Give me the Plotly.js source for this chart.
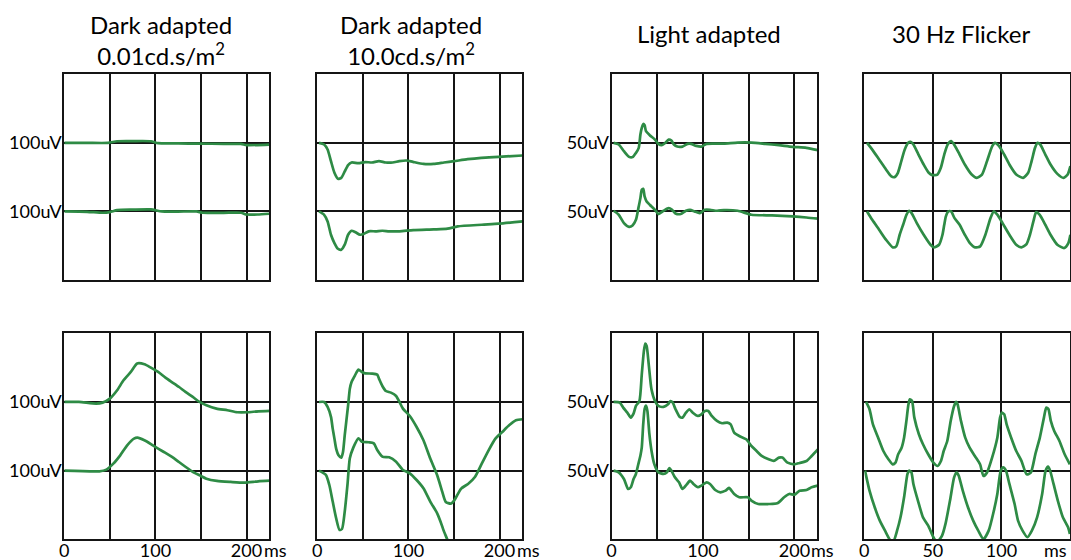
<!DOCTYPE html>
<html>
<head>
<meta charset="utf-8">
<script src="https://cdn.plot.ly/plotly-3.0.1.min.js"></script>
<style>
html,body{margin:0;padding:0;background:#fff;}
#chart{width:1071px;height:560px;}
</style>
</head>
<body>
<div id="chart"></div>
<script>
// ---------- column titles and axis labels ----------
const columnTitles = ["Dark adapted<br>0.01cd.s/m<sup>2</sup>", "Dark adapted<br>10.0cd.s/m<sup>2</sup>", "Light adapted", "30 Hz Flicker"];
const amplitudeLabels = ["100uV", "", "50uV", ""];
const amplitudeScale = [100, 100, 50, 50];          // uV per grid division
const timeRange = [225, 225, 225, 150];             // ms shown per column
const timeLabelVals = [[0,100,200],[0,100,200],[0,100,200],[0,50,100]];
const timeLabelText = [["0","100","200"],["0","100","200"],["0","100","200"],["0","50","100"]];
const timeGridVals = [[50,100,150,200],[50,100,150,200],[50,100,150,200],[50,100]];

// ---------- Row 1, column 1: dark adapted 0.01 ----------
const r1c1_upper_t = [0, 25, 48, 58, 75, 95, 103, 125, 148, 175, 194, 200, 225];
const r1c1_upper_v = [0, 0, 0, 2.4, 2.6, 2.4, -0.5, -0.8, -1.2, -1.4, -1.6, -3.2, -2.5];
const r1c1_lower_t = [0, 25, 42, 50, 58, 75, 95, 107, 125, 145, 152, 175, 194, 200, 212, 225];
const r1c1_lower_v = [0, -0.5, -1.9, -1, 1.9, 2.6, 2.9, 0, -0.2, 0, -1.9, -2, -1.9, -4.5, -4.5, -3.4];

// ---------- Row 1, column 2: dark adapted 10.0 ----------
const r1c2_upper_t = [1.9, 7.5, 11.3, 15, 18.8, 22.6, 26.3, 30, 33.8, 37.6, 45, 52.6, 60, 67.7, 75, 82.7, 90, 97.7, 105, 116.5, 127.8, 139, 150, 165, 180, 199, 225];
const r1c2_upper_v = [0, -2.4, -9.7, -26.7, -43.7, -52.4, -51, -42, -32.5, -28.6, -29.6, -28, -28.6, -26.7, -28.6, -28.6, -26.7, -25.7, -27.7, -30.6, -30.6, -28.6, -26.7, -23.8, -21.8, -20.4, -18.4];
const r1c2_lower_t = [1.9, 7.5, 11.3, 15, 18.8, 22.6, 26.3, 30.1, 33.8, 37.6, 41.4, 47, 50.8, 56.4, 63.9, 71.4, 78.9, 90.2, 105.3, 127.8, 142.9, 154.1, 180.5, 199.2, 225.6];
const r1c2_lower_v = [0, -4.9, -14.6, -34, -46.1, -54.4, -55.8, -48.5, -34, -28.2, -30, -34, -33, -29, -29, -28.2, -29, -29, -27.2, -26.2, -25.2, -21.8, -19.4, -17.9, -14.6];

// ---------- Row 1, column 3: light adapted ----------
const r1c3_upper_t = [2.3, 7.9, 13.6, 19.2, 23, 26.7, 29.8, 31.6, 33.1, 34.7, 36.2, 37.7, 41.8, 47.5, 51.2, 55, 58.8, 62.5, 65.5, 68.2, 71.9, 77.6, 83.2, 87, 92.7, 98.3, 104, 111.5, 122.8, 137.9, 152.9, 168, 183, 198, 213, 225.6];
const r1c3_upper_v = [0, -1.2, -6.1, -10.2, -10.4, -7.3, -3.6, 6.1, 10.9, 13.8, 12.9, 8.5, 5.6, 2.4, -0.7, -1.7, 0, 2.4, 1.7, -1.2, -2.7, -2.7, -0.7, -0.7, -2.2, -2.7, -0.7, -0.5, -0.5, 0.2, 0.2, -0.7, -1.7, -2.9, -3.6, -5.3];
const r1c3_lower_t = [2.3, 7.9, 13.6, 19.2, 23, 26.7, 29.4, 31.6, 33.1, 34.7, 36.2, 38.4, 41.8, 47.5, 51.2, 56.9, 62.5, 66.3, 70, 75.7, 81.4, 85.9, 90.8, 96.4, 102.1, 107.7, 115.3, 122.8, 137.9, 152.9, 175.5, 198.1, 213.2, 225.6];
const r1c3_lower_v = [0.5, -2.4, -8.5, -11.2, -10.2, -6.1, 2.4, 9.7, 15.8, 16.5, 10.9, 7.3, 4.9, 1.2, -1.9, 0.5, 2.4, 1.2, -1.5, -1.9, 0.5, 1.2, 0, -1.2, 1.2, 1.2, 0.5, 1, 0.5, -2.4, -2.9, -3.6, -4.4, -5.3];

// ---------- Row 1, column 4: 30 Hz flicker ----------
const r1c4_upper_t = [2, 5.8, 10.8, 15.8, 19.5, 22, 24.5, 27, 29.5, 32, 33.8, 35.8, 39.5, 43.3, 47, 49.5, 53.3, 55.8, 58.3, 60.8, 63.3, 65.8, 69.5, 73.3, 78.3, 82, 85.8, 89.5, 93.3, 95.3, 98.3, 102, 105.8, 110.8, 115.8, 119.5, 122, 124.5, 126.3, 128.3, 132, 135.8, 140.8, 145.3, 148.3, 150.3];
const r1c4_upper_v = [0, -4.9, -12.1, -19.4, -24.3, -25, -21.8, -13.3, -4.9, 0, 0.7, -1.2, -8.5, -15.8, -21.8, -23.5, -23.1, -18.2, -8.5, -1.2, 1.2, -1.7, -8.5, -15.8, -23.1, -25.5, -23.1, -13.3, -2.4, 0, -2.4, -8.5, -15.8, -23.1, -25.5, -21.8, -13.3, -3.6, 0, -1.2, -8.5, -15.8, -22.6, -25.5, -23.1, -17];
const r1c4_lower_t = [2, 5.8, 10.8, 15.8, 20.8, 23.3, 25.8, 28.3, 30.8, 32.8, 34.5, 38.3, 43.3, 48.3, 50.8, 54.5, 57, 58.3, 59.5, 61.3, 63.3, 65.8, 69.5, 73.3, 77, 80.8, 84.5, 88.3, 92, 94.5, 97, 100.8, 105.8, 110.8, 114.5, 118.3, 120.8, 123.3, 125.3, 127.8, 132, 135.8, 140.8, 145.8, 148.8, 150.3];
const r1c4_lower_v = [0, -6.1, -13.3, -20.6, -26.2, -25.5, -17, -9.7, -2.4, 0.5, -1.2, -8.5, -17, -24.3, -26.2, -24.3, -17, -9.7, -3.6, 0, 0, -4.9, -9.7, -17, -23.1, -26.2, -25.5, -17, -4.9, 0, -2.4, -8.5, -17, -24.3, -26.2, -23.8, -17, -7.3, -0.5, -2.4, -9.7, -17, -24.3, -26.7, -23.1, -17];

// ---------- Row 2, column 1 ----------
const r2c1_upper_t = [0, 16, 35, 42, 50, 58, 65, 73, 80, 88, 95, 103, 111, 118, 126, 133, 141, 148.5, 156, 167, 179, 190, 201, 213, 226];
const r2c1_upper_v = [0, 0, -2.4, -1, 4.9, 17, 31.6, 43.7, 56, 54.9, 50, 43.7, 35.4, 29, 21.8, 14.6, 7.3, 0, -4.9, -9.7, -12, -15, -15, -13.6, -13];
const r2c1_lower_t = [0, 38.6, 46.2, 53.8, 61.4, 69, 76.5, 80.3, 87.9, 95.5, 103, 110.6, 118.2, 125.8, 133.3, 141, 148.5, 156, 167.4, 182.6, 197.7, 212.9, 226];
const r2c1_lower_v = [0, -1, 1.5, 10.2, 22.3, 36.9, 46.6, 48, 44.2, 38.3, 32, 26.2, 19.9, 12.6, 5.3, -1.9, -6.8, -11.7, -15, -16.5, -17.5, -15.5, -14.6];

// ---------- Row 2, column 2 ----------
const r2c2_upper_t = [1.9, 7.5, 11.3, 15, 16.9, 18.8, 20.7, 23.3, 26.3, 28.2, 30.1, 33.8, 35.7, 37.6, 41.4, 45.1, 48.9, 52.6, 60.2, 65.8, 67.7, 71.4, 75.2, 80.8, 86.5, 90.2, 94, 101.5, 109, 116.5, 124, 131.6, 137.2, 141, 146.6, 150.4, 157.9, 165.4, 173, 180.5, 188, 195.5, 203, 210.5, 218, 225.6];
const r2c2_upper_v = [0, 0, -7.3, -21.8, -38.8, -53.4, -68, -77.7, -81.1, -72.8, -48.5, -4.9, 19.4, 29.1, 38.8, 47.1, 43.7, 41.7, 41.3, 39.8, 34, 23.3, 16, 13.6, 8.7, 0, -9.7, -20.4, -36.4, -55.8, -82.5, -106.8, -131, -145.6, -148, -143.2, -126.2, -119.4, -109.2, -89.8, -70.4, -53.4, -43.7, -34, -26.7, -25.2];
const r2c2_lower_t = [1.9, 9.4, 13.2, 16.9, 20.7, 24.4, 27.1, 30.1, 33.1, 35.7, 39.5, 45.1, 48.9, 56.4, 62, 65.8, 71.4, 78.9, 86.5, 94, 101.5, 109, 116.5, 124, 131.6, 135.3, 139.1, 142.9, 144.7];
const r2c2_lower_v = [0, -6.3, -20.9, -45.1, -69.4, -86.4, -85, -59.7, -20.9, 17.9, 33.5, 47.1, 42.2, 41.3, 39.8, 30, 20.4, 19.4, 13.1, 1, -3.9, -13.6, -25.7, -45.1, -62.1, -74.3, -88.8, -101, -108];

// ---------- Row 2, column 3 ----------
const r2c3_upper_t = [2.3, 9, 12.8, 17.3, 21.1, 24.1, 26.7, 30.5, 33.1, 35.4, 36.9, 38.4, 40.7, 43.7, 47.5, 51.2, 56.9, 61.8, 64.4, 67, 70, 74.6, 77.6, 81.4, 85.1, 88.9, 94.5, 98.3, 102.1, 105.8, 109.6, 115.3, 120.9, 126.6, 130.3, 134.1, 139.7, 147.3, 152.9, 158.6, 164.2, 171.8, 177.4, 183.1, 186.8, 192.5, 200, 205.6, 213.2, 218.8, 225.6];
const r2c3_upper_v = [0, -0.5, -4.1, -7.8, -11.4, -8.5, -2.9, 0.7, 20.1, 37, 42.5, 40.8, 27.4, 9.2, 0.7, -2.9, -3.6, -1.7, 0.7, -0.5, -5.3, -10.9, -11.4, -7.8, -5.3, -7.8, -10.2, -9, -6.6, -6.6, -10.2, -13.8, -15.5, -15, -16.3, -22.3, -24.8, -27.2, -32, -35.7, -39.3, -41.7, -42.9, -40.5, -40.5, -44.2, -45.4, -44.4, -43, -39.3, -34.5];
const r2c3_lower_t = [2.3, 7.9, 13.6, 18.1, 21.1, 24.1, 26.7, 29.4, 31.6, 33.1, 34.7, 36.2, 37.7, 39.2, 41.4, 43.7, 46.7, 51.2, 56.9, 60.6, 63.3, 65.5, 69.3, 73.8, 77.6, 82.1, 85.9, 89.6, 94.5, 98.3, 103.9, 107.7, 113.4, 119, 124.7, 128.4, 134.1, 139.7, 149.2, 152.9, 160.5, 171.8, 181.2, 188.7, 194.4, 200, 205.6, 213.2, 218.8, 225.6];
const r2c3_lower_v = [0, -1.2, -6.1, -13.3, -12.1, -6.1, -2.4, 4.9, 10.9, 17, 34, 44.9, 47.3, 43.7, 26.7, 14.6, 4.9, -1.2, -2.4, -1.2, 1.9, 0, -4.9, -8.5, -13.3, -10.2, -7.3, -9.7, -12.1, -10.9, -8.5, -9.7, -14.1, -15.8, -14.6, -12.6, -17, -19.4, -19.4, -21.8, -24.3, -24.3, -23.8, -19.4, -17, -17.5, -14.6, -14.1, -12.1, -10.9];

// ---------- Row 2, column 4 ----------
const r2c4_upper_t = [1.3, 3.8, 6.3, 10.1, 13.9, 17.6, 20.7, 22.7, 24.7, 27.2, 29, 30.7, 32.2, 33.2, 34.8, 36.5, 39.8, 42.8, 46.6, 50.4, 53.4, 55.9, 57.9, 60.5, 63, 65.5, 67, 68, 70.5, 73.6, 76.8, 80.6, 84.4, 86.9, 89.4, 93.2, 97, 99, 100.3, 102, 103.8, 107.1, 110.8, 114.6, 118.4, 121.4, 124.7, 128, 131, 132.7, 134.3, 136, 138.5, 142.3, 146.1, 149.9];
const r2c4_upper_v = [0, -5.3, -16.3, -26, -35.7, -41.7, -45.4, -44.2, -38.1, -33.3, -26, -13.8, -1.7, 1.9, 0.7, -11.4, -23.5, -30.8, -38.1, -44.2, -46.6, -43, -35.7, -28.4, -13.8, -2.9, 0, -1.7, -13.8, -26, -33.3, -39.3, -45.4, -53.9, -51.5, -40.5, -26, -11.4, -7.8, -9, -16.3, -26, -35.7, -42.9, -52.7, -51.5, -38.1, -26, -11.4, -4.1, -5.3, -13.8, -21.1, -28.4, -38.1, -45.4];
const r2c4_lower_t = [0.5, 3.8, 7.6, 11.3, 15.1, 18.9, 21.4, 23.9, 26.4, 29, 31.5, 32.7, 34.3, 35.8, 39.1, 42.8, 46.6, 50.4, 52.9, 56.7, 59.2, 62.5, 65.5, 67.3, 68.8, 71.8, 75.6, 79.4, 83.1, 86.9, 90.7, 94.5, 97, 99.5, 101.3, 103.3, 105.8, 109.6, 112.1, 115.4, 118.9, 122.2, 126, 129.7, 132.2, 134, 135.5, 138, 141.1, 144.8, 148.6, 149.9];
const r2c4_lower_v = [0, -14.6, -26.7, -36.4, -43.7, -50.5, -51, -43.7, -34, -19.4, -2.4, 0, -1.2, -9.7, -21.8, -34, -40, -48.5, -52.2, -47.3, -38.8, -21.8, -4.9, -1.2, -3.6, -14.6, -26.7, -36.4, -43.7, -49.8, -43.7, -29.1, -17, 0, 2.4, 0, -9.7, -24.3, -36.4, -43.7, -48.5, -43.7, -34, -17, 0, 2.9, 0, -9.7, -21.8, -34, -41.3, -46.1];

const panels = [
  {row:0, col:0, upper:[r1c1_upper_t, r1c1_upper_v], lower:[r1c1_lower_t, r1c1_lower_v]},
  {row:0, col:1, upper:[r1c2_upper_t, r1c2_upper_v], lower:[r1c2_lower_t, r1c2_lower_v]},
  {row:0, col:2, upper:[r1c3_upper_t, r1c3_upper_v], lower:[r1c3_lower_t, r1c3_lower_v]},
  {row:0, col:3, upper:[r1c4_upper_t, r1c4_upper_v], lower:[r1c4_lower_t, r1c4_lower_v]},
  {row:1, col:0, upper:[r2c1_upper_t, r2c1_upper_v], lower:[r2c1_lower_t, r2c1_lower_v]},
  {row:1, col:1, upper:[r2c2_upper_t, r2c2_upper_v], lower:[r2c2_lower_t, r2c2_lower_v]},
  {row:1, col:2, upper:[r2c3_upper_t, r2c3_upper_v], lower:[r2c3_lower_t, r2c3_lower_v]},
  {row:1, col:3, upper:[r2c4_upper_t, r2c4_upper_v], lower:[r2c4_lower_t, r2c4_lower_v]}
];

// ---------- layout geometry (pixels) ----------
const W = 1071, H = 560;
const colPx = [[64.3, 269.3], [317.3, 522.3], [611.5, 817.3], [864.3, 1070]];
const rowPx = [[74.3, 280], [333.3, 539.3]];
const titleCenterX = [161, 410.6, 708.7, 961];
const titleCenterY = [40, 40, 33, 33];

const FONT = "Lato, 'Open Sans', sans-serif";
const GREEN = "#2e8b45";
const INK = "#151515";

const data = [];
const layout = {
  width: W, height: H,
  margin: {l:0, r:0, t:0, b:0},
  paper_bgcolor: "#fff", plot_bgcolor: "#fff",
  showlegend: false,
  font: {family: FONT, size: 18, color: "#000"},
  annotations: []
};

panels.forEach((p, i) => {
  const n = i + 1;
  const xa = n === 1 ? "x" : "x" + n;
  const ya = n === 1 ? "y" : "y" + n;
  const s = amplitudeScale[p.col];
  // upper trace sits one division above the lower trace
  data.push({x: p.upper[0], y: p.upper[1].map(v => v + s), xaxis: xa, yaxis: ya,
             type: "scatter", mode: "lines", line: {color: GREEN, width: 2.7, shape: "spline", smoothing: 0.6}, hoverinfo: "skip"});
  data.push({x: p.lower[0], y: p.lower[1], xaxis: xa, yaxis: ya,
             type: "scatter", mode: "lines", line: {color: GREEN, width: 2.7, shape: "spline", smoothing: 0.6}, hoverinfo: "skip"});

  const cx = colPx[p.col], ry = rowPx[p.row];
  const isBottom = p.row === 1;
  const xax = {
    domain: [cx[0] / W, cx[1] / W],
    anchor: ya,
    range: [0, timeRange[p.col]],
    ticks: "", tickfont: {family: FONT, size: 18, color: "#000"},
    ticklabelstandoff: -6,
    showgrid: false,
    minor: {tickmode: "array", tickvals: timeGridVals[p.col], showgrid: true, gridcolor: INK, gridwidth: 2, ticks: ""},
    showline: true, mirror: true, linecolor: INK, linewidth: 2,
    zeroline: false, fixedrange: true
  };
  if (isBottom) {
    xax.tickmode = "array"; xax.tickvals = timeLabelVals[p.col]; xax.ticktext = timeLabelText[p.col];
    xax.showticklabels = true;
  } else {
    xax.tickmode = "array"; xax.tickvals = []; xax.showticklabels = false;
  }
  layout["xaxis" + (n === 1 ? "" : n)] = xax;

  const lbl = amplitudeLabels[p.col];
  const yax = {
    domain: [1 - ry[1] / H, 1 - ry[0] / H],
    anchor: xa,
    range: [-s, 2 * s],
    ticks: "", tickfont: {family: FONT, size: 18, color: "#000"},
    ticklabelstandoff: -3,
    showgrid: false,
    minor: {tickmode: "array", tickvals: [0, s], showgrid: true, gridcolor: INK, gridwidth: 2, ticks: ""},
    showline: true, mirror: true, linecolor: INK, linewidth: 2,
    zeroline: false, fixedrange: true
  };
  if (lbl) {
    yax.tickmode = "array"; yax.tickvals = [0, s]; yax.ticktext = [lbl, lbl]; yax.showticklabels = true;
  } else {
    yax.tickmode = "array"; yax.tickvals = []; yax.showticklabels = false;
  }
  layout["yaxis" + (n === 1 ? "" : n)] = yax;

  if (isBottom && p.col < 3) {
    layout.annotations.push({xref: xa, yref: "paper", x: 200, y: 1 - 550 / H, xshift: 15,
      xanchor: "left", yanchor: "middle", showarrow: false, text: "ms",
      font: {family: FONT, size: 18, color: "#000"}});
  }
  if (isBottom && p.col === 3) {
    layout.annotations.push({xref: "paper", yref: "paper", x: 1069 / W, y: 1 - 550 / H,
      xanchor: "right", yanchor: "middle", showarrow: false, text: "ms",
      font: {family: FONT, size: 18, color: "#000"}});
  }
});

columnTitles.forEach((t, c) => {
  layout.annotations.push({xref: "paper", yref: "paper", x: titleCenterX[c] / W, y: 1 - titleCenterY[c] / H,
    xanchor: "center", yanchor: "middle", showarrow: false, text: t,
    font: {family: FONT, size: 24, color: "#000"}});
});

Plotly.newPlot("chart", data, layout, {displayModeBar: false, staticPlot: true});
</script>
</body>
</html>
